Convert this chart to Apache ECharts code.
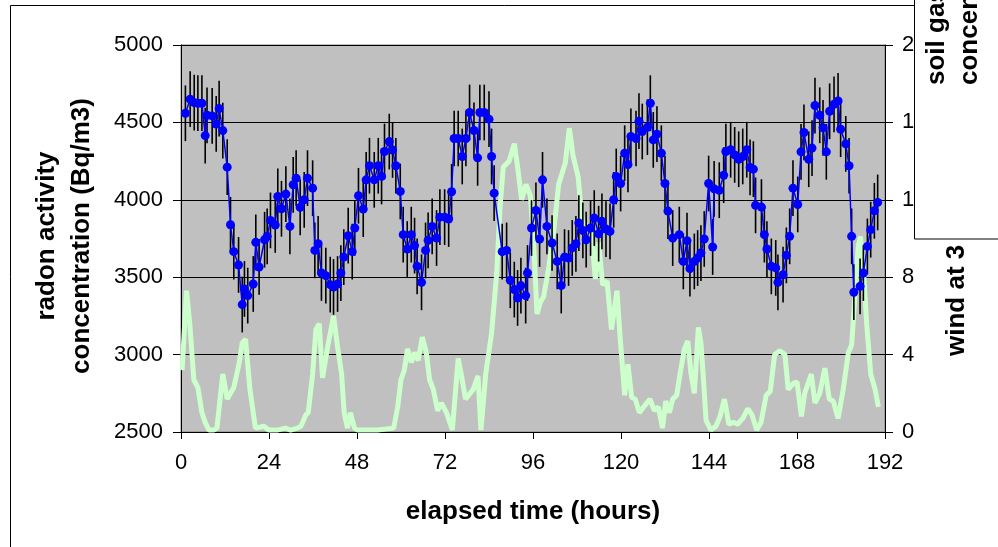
<!DOCTYPE html>
<html>
<head>
<meta charset="utf-8">
<script src="https://cdn.jsdelivr.net/npm/echarts@6/dist/echarts.min.js"></script>
<style>
  html, body { margin: 0; padding: 0; background: #fff; }
  #chart { width: 998px; height: 547px; }
</style>
</head>
<body>
<div id="chart"></div>
<script>
// radon activity concentration (Bq/m3) vs elapsed time (hours)
const radonHours = [1.2, 2.5, 3.6, 4.6, 5.7, 6.6, 7.1, 8.5, 9.6, 10.4, 11.4, 12.6, 13.5, 14.4, 15.7, 16.7, 17.3, 18.2, 19.7, 20.4,
  21.3, 22.8, 23.5, 24.4, 25.7, 26.4, 27.4, 28.6, 29.7, 30.6, 31.4, 32.5, 33.6, 34.5, 35.9, 36.5, 37.4, 38.3, 39.5, 40.7,
  41.6, 42.7, 43.6, 44.4, 45.6, 46.7, 47.4, 48.4, 49.7, 50.5, 51.4, 52.7, 53.8, 54.7, 55.5, 56.8, 57.7, 58.6, 59.8, 60.6,
  61.7, 62.8, 63.7, 64.4, 65.6, 66.7, 67.4, 68.5, 69.7, 70.6, 71.9, 73.0, 73.8, 74.5, 75.6, 76.7, 77.7, 78.7, 79.9, 80.9,
  81.5, 82.7, 84.0, 84.7, 85.4, 87.6, 88.8, 89.8, 90.9, 91.8, 92.7, 94.0, 94.5, 95.6, 96.8, 97.8, 98.6, 99.8, 101.2, 102.6,
  103.7, 104.6, 105.7, 106.7, 107.7, 108.5, 109.6, 110.5, 111.7, 112.7, 113.9, 114.8, 115.9, 117.0, 118.0, 118.7, 119.9, 121.0, 121.9, 122.7,
  124.1, 124.9, 125.8, 127.2, 128.0, 128.8, 129.8, 131.0, 132.0, 132.8, 134.1, 135.9, 137.0, 138.0, 138.8, 140.0, 140.9, 141.8, 142.7, 143.9,
  145.0, 145.4, 146.8, 148.0, 148.6, 149.9, 151.0, 152.1, 153.2, 154.3, 155.2, 156.1, 156.7, 158.3, 159.1, 159.8, 161.0, 162.2, 162.8, 164.2,
  165.1, 166.0, 166.9, 168.2, 169.1, 169.9, 171.2, 172.1, 172.9, 174.2, 175.1, 176.0, 176.9, 178.1, 179.2, 179.9, 181.3, 182.2, 182.9, 183.5,
  185.2, 186.1, 187.2, 188.1, 189.1, 190.0];
const radonValues = [4559, 4650, 4628, 4624, 4624, 4415, 4546, 4542, 4490, 4589, 4447, 4211, 3839, 3665, 3579, 3323, 3424, 3381, 3456, 3725,
  3566, 3742, 3764, 3867, 3837, 4022, 3942, 4037, 3828, 4097, 4140, 3951, 4000, 4140, 4075, 3673, 3716, 3527, 3510, 3452,
  3437, 3456, 3527, 3630, 3768, 3665, 3818, 4026, 3940, 4129, 4220, 4129, 4220, 4151, 4312, 4376, 4322, 4220, 4054, 3775,
  3682, 3775, 3704, 3570, 3467, 3673, 3738, 3828, 3753, 3888, 3888, 3876, 4052, 4396, 4396, 4280, 4396, 4564, 4448, 4271,
  4564, 4564, 4521, 4280, 4043, 3665, 3673, 3480, 3420, 3366, 3446, 3381, 3527, 3818, 3931, 3747, 4129, 3828, 3721, 3602,
  3446, 3630, 3624, 3689, 3716, 3850, 3802, 3742, 3818, 3882, 3781, 3861, 3811, 3796, 4000, 4151, 4105, 4301, 4228, 4409,
  4396, 4508, 4441, 4469, 4624, 4387, 4424, 4301, 4105, 3927, 3753, 3775, 3602, 3736, 3555, 3602, 3624, 3656, 3747, 4105,
  3695, 4071, 4062, 4159, 4312, 4323, 4290, 4262, 4280, 4323, 4209, 4198, 3964, 3953, 3775, 3682, 3570, 3560, 3467, 3516,
  3641, 3764, 4075, 3970, 4310, 4435, 4262, 4334, 4609, 4546, 4465, 4310, 4572, 4617, 4639, 4456, 4361, 4220, 3764, 3403,
  3441, 3527, 3699, 3807, 3929, 3983];
const radonError = 180;

// wind speed at 3 m (right axis)
const windHours = [0.3, 1.5, 2.4, 3.5, 4.6, 5.7, 6.6, 7.6, 8.9, 9.8, 11.4, 12.6, 14.4, 15.8, 16.7, 17.6, 18.8, 20.3, 22.6, 23.9,
  26.2, 28.5, 29.9, 31.7, 32.7, 34.1, 34.7, 35.9, 36.8, 37.7, 38.6, 40.0, 41.6, 42.7, 43.8, 44.5, 45.4, 46.2, 47.3, 48.2,
  50.5, 53.6, 58.0, 59.1, 60.0, 60.9, 61.8, 62.8, 63.7, 64.7, 65.8, 66.9, 67.8, 68.8, 70.0, 71.0, 72.4, 74.0, 75.6, 76.5,
  77.6, 79.7, 81.0, 81.8, 83.1, 84.7, 86.1, 87.0, 87.9, 89.5, 90.9, 91.8, 92.9, 94.1, 95.3, 96.2, 97.1, 98.0, 98.9, 100.3,
  101.6, 103.0, 104.8, 105.9, 106.9, 108.3, 109.4, 110.8, 111.9, 113.0, 113.9, 115.0, 116.2, 117.4, 118.9, 119.8, 121.0, 121.9, 122.9, 123.9,
  125.0, 126.2, 127.9, 129.1, 130.2, 131.3, 132.2, 133.2, 134.1, 135.2, 136.1, 137.3, 138.2, 139.1, 140.0, 141.1, 141.8, 142.4, 143.2, 144.5,
  145.9, 147.0, 148.2, 149.4, 150.6, 151.8, 153.2, 154.6, 155.7, 157.0, 158.2, 159.6, 160.7, 161.9, 163.3, 164.7, 165.6, 166.9, 168.0, 169.2,
  170.1, 171.9, 172.9, 174.2, 175.6, 176.8, 177.9, 179.2, 180.6, 182.0, 182.9, 183.8, 184.7, 185.3, 186.1, 187.0, 188.1, 189.3, 190.2];
const windValues = [3.2, 7.3, 5.6, 2.7, 2.3, 1.0, 0.5, 0.1, 0.1, 0.2, 3.0, 1.7, 2.3, 3.5, 4.6, 4.8, 2.2, 0.2, 0.3, 0.1,
  0.1, 0.2, 0.1, 0.2, 0.3, 0.9, 1.0, 3.0, 5.3, 5.6, 2.8, 4.4, 6.0, 4.4, 3.0, 1.0, 0.2, 1.0, 0.2, 0.1,
  0.1, 0.1, 0.2, 1.3, 2.7, 3.2, 4.3, 3.6, 4.1, 3.7, 4.9, 4.1, 2.7, 2.2, 1.1, 1.5, 1.0, 0.1, 3.8, 2.9,
  1.7, 2.2, 2.9, 0.1, 3.0, 5.1, 8.2, 11.6, 13.7, 14.0, 14.9, 13.7, 12.0, 12.8, 12.2, 9.6, 6.1, 6.7, 7.0, 8.5,
  10.3, 12.8, 13.9, 15.7, 14.3, 13.2, 10.9, 10.6, 10.3, 7.9, 9.8, 7.6, 7.8, 5.3, 7.3, 4.8, 1.9, 3.5, 1.8, 1.7,
  1.0, 1.3, 1.7, 1.1, 1.3, 0.2, 1.6, 1.0, 1.7, 1.9, 3.0, 4.3, 4.7, 3.0, 2.0, 5.4, 4.6, 3.0, 0.6, 0.1,
  0.3, 0.8, 1.7, 0.4, 0.5, 0.4, 0.7, 1.2, 0.9, 0.1, 0.5, 1.9, 2.1, 4.0, 4.2, 4.0, 2.2, 2.5, 2.6, 0.8,
  2.0, 3.0, 1.5, 2.0, 3.3, 1.7, 1.6, 0.7, 2.2, 4.1, 4.5, 7.0, 9.6, 10.1, 8.5, 5.6, 3.0, 2.2, 1.3];

const radonData = radonHours.map((h, i) => [h, radonValues[i]]);
const windData = windHours.map((h, i) => [h, windValues[i]]);

const FONT = '"Liberation Sans", Arial, sans-serif';
const chart = echarts.init(document.getElementById('chart'), null, { renderer: 'canvas' });

chart.setOption({
  animation: false,
  backgroundColor: '#ffffff',
  grid: {
    left: 181, top: 45, width: 704, height: 387,
    show: true, backgroundColor: '#c0c0c0', borderColor: '#808080', borderWidth: 1
  },
  xAxis: {
    type: 'value', min: 0, max: 192, interval: 24,
    axisLine: { lineStyle: { color: '#000', width: 1 } },
    axisTick: { show: true, length: 7, lineStyle: { color: '#000' } },
    axisLabel: { color: '#000', fontSize: 22, fontFamily: FONT, margin: 20, formatter: v => String(v) },
    splitLine: { show: false }
  },
  yAxis: [{
    type: 'value', min: 2500, max: 5000, interval: 500,
    axisLine: { show: true, lineStyle: { color: '#000', width: 1 } },
    axisTick: { show: true, length: 8, lineStyle: { color: '#000' } },
    axisLabel: { color: '#000', fontSize: 22, fontFamily: FONT, margin: 18, formatter: v => String(v) },
    splitLine: { show: true, lineStyle: { color: '#000', width: 1 } }
  }, {
    type: 'value', min: 0, max: 20, interval: 4, position: 'right',
    axisLine: { show: true, lineStyle: { color: '#000', width: 1 } },
    axisTick: { show: true, length: 8, lineStyle: { color: '#000' } },
    axisLabel: { color: '#000', fontSize: 22, fontFamily: FONT, margin: 17, formatter: v => String(v) },
    splitLine: { show: false }
  }],
  series: [{
    name: 'wind', type: 'line', yAxisIndex: 1, data: windData,
    showSymbol: false, symbol: 'none',
    lineStyle: { color: '#ccffcc', width: 5 }, z: 2
  }, {
    name: 'error', type: 'custom', yAxisIndex: 0, data: radonData, z: 3,
    renderItem: function (params, api) {
      const x = api.value(0), y = api.value(1);
      const p1 = api.coord([x, y - radonError]);
      const p2 = api.coord([x, y + radonError]);
      return {
        type: 'line',
        shape: { x1: p1[0], y1: p1[1], x2: p2[0], y2: p2[1] },
        style: { stroke: '#000', lineWidth: 1.6 }
      };
    }
  }, {
    name: 'radon', type: 'line', yAxisIndex: 0, data: radonData,
    symbol: 'circle', symbolSize: 9, showSymbol: true,
    lineStyle: { color: '#0000ff', width: 1.5 },
    itemStyle: { color: '#0000ff' }, z: 4
  }],
  graphic: [
    { type: 'rect', z: 50, silent: true,
      shape: { x: 10.5, y: 5.5, width: 1100, height: 700 },
      style: { fill: 'none', stroke: '#000', lineWidth: 1 } },
    { type: 'text', z: 60, x: 64, y: 236, rotation: Math.PI / 2,
      style: { text: 'radon activity\nconcentration (Bq/m3)', font: 'bold 26px ' + FONT, fill: '#000',
        align: 'center', verticalAlign: 'middle', lineHeight: 35 } },
    { type: 'text', z: 60, x: 533, y: 512,
      style: { text: 'elapsed time (hours)', font: 'bold 26px ' + FONT, fill: '#000',
        align: 'center', verticalAlign: 'middle' } },
    { type: 'text', z: 60, x: 957, y: 356, rotation: Math.PI / 2,
      style: { text: 'wind at 3 m (m/s)', font: 'bold 26px ' + FONT, fill: '#000',
        align: 'left', verticalAlign: 'middle' } },
    { type: 'rect', z: 80, silent: true,
      shape: { x: 914.5, y: -5, width: 200, height: 244 },
      style: { fill: '#fff', stroke: '#000', lineWidth: 1 } },
    { type: 'text', z: 90, x: 937, y: 85, rotation: Math.PI / 2,
      style: { text: 'soil gas radon', font: 'bold 26px ' + FONT, fill: '#000',
        align: 'left', verticalAlign: 'middle' } },
    { type: 'text', z: 90, x: 970, y: 85, rotation: Math.PI / 2,
      style: { text: 'concentration', font: 'bold 26px ' + FONT, fill: '#000',
        align: 'left', verticalAlign: 'middle' } }
  ]
});
</script>
</body>
</html>
